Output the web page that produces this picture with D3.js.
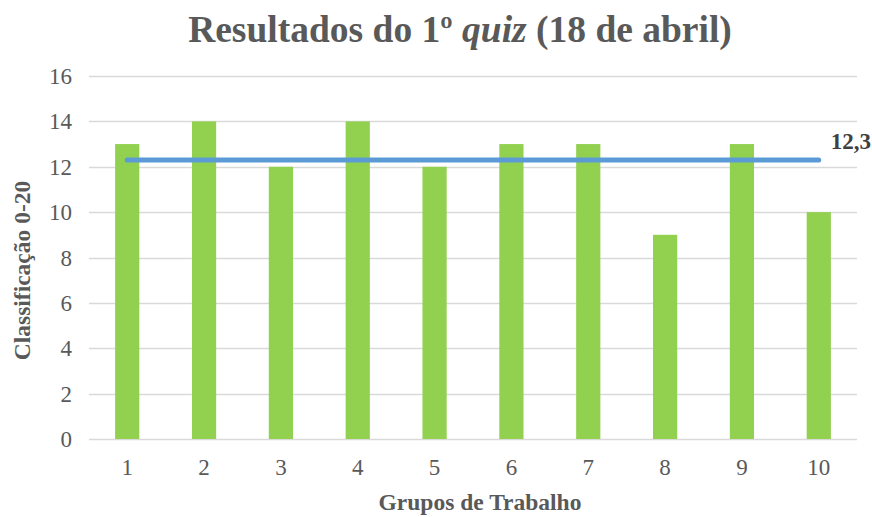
<!DOCTYPE html>
<html>
<head>
<meta charset="utf-8">
<script src="https://cdn.jsdelivr.net/npm/d3@7"></script>
<style>
  body { margin: 0; background: #fff; }
  text { font-family: "Liberation Serif", "Times New Roman", serif; }
</style>
</head>
<body>
<div id="viz"></div>
<script>
const groups = ['1', '2', '3', '4', '5', '6', '7', '8', '9', '10'];
const scores = [13, 14, 12, 14, 12, 13, 13, 9, 13, 10];
const yTicks = [0, 2, 4, 6, 8, 10, 12, 14, 16];
const average = 12.3;
const averageLabel = '12,3';

const width = 872,
    height = 517,
    margin = { top: 76, right: 15, bottom: 78, left: 89 };

const svg = d3.select('#viz').append('svg')
    .attr('width', width)
    .attr('height', height);

const x = d3.scaleBand()
    .domain(groups)
    .range([margin.left, width - margin.right])
    .paddingInner(0.685)
    .paddingOuter(0.34);

const y = d3.scaleLinear()
    .domain([0, 16])
    .range([height - margin.bottom, margin.top]);

// gridlines
svg.append('g')
    .selectAll('line')
    .data(yTicks)
    .join('line')
    .attr('x1', margin.left)
    .attr('x2', width - margin.right)
    .attr('y1', d => Math.round(y(d)) + 0.5)
    .attr('y2', d => Math.round(y(d)) + 0.5)
    .attr('stroke', '#d9d9d9')
    .attr('stroke-width', 1.3);

// y tick labels
svg.append('g')
    .selectAll('text')
    .data(yTicks)
    .join('text')
    .attr('x', 72)
    .attr('y', d => y(d))
    .attr('dy', '0.35em')
    .attr('text-anchor', 'end')
    .attr('font-size', 23)
    .attr('fill', '#595959')
    .text(d => d);

// bars
svg.append('g')
    .selectAll('rect')
    .data(scores)
    .join('rect')
    .attr('x', (d, i) => x(groups[i]))
    .attr('y', d => y(d))
    .attr('width', x.bandwidth())
    .attr('height', d => y(0) - y(d))
    .attr('fill', '#92d050');

// x tick labels
svg.append('g')
    .selectAll('text')
    .data(groups)
    .join('text')
    .attr('x', d => x(d) + x.bandwidth() / 2)
    .attr('y', 475)
    .attr('text-anchor', 'middle')
    .attr('font-size', 23)
    .attr('fill', '#595959')
    .text(d => d);

// average line
const firstC = x(groups[0]) + x.bandwidth() / 2,
    lastC = x(groups[groups.length - 1]) + x.bandwidth() / 2;

svg.append('line')
    .attr('x1', firstC)
    .attr('x2', lastC)
    .attr('y1', y(average))
    .attr('y2', y(average))
    .attr('stroke', '#5b9bd5')
    .attr('stroke-width', 5)
    .attr('stroke-linecap', 'round');

svg.append('text')
    .attr('x', lastC + 12)
    .attr('y', y(average) - 11)
    .attr('font-size', 23)
    .attr('font-weight', 'bold')
    .attr('fill', '#404040')
    .text(averageLabel);

// title
const title = svg.append('text')
    .attr('x', 460)
    .attr('y', 42)
    .attr('text-anchor', 'middle')
    .attr('font-size', 37.5)
    .attr('font-weight', 'bold')
    .attr('fill', '#595959');
title.append('tspan').text('Resultados do 1º ');
title.append('tspan').attr('font-style', 'italic').text('quiz');
title.append('tspan').text(' (18 de abril)');

// axis titles
svg.append('text')
    .attr('x', x.range()[0] + (x.range()[1] - x.range()[0]) / 2 + 7)
    .attr('y', 510)
    .attr('text-anchor', 'middle')
    .attr('font-size', 23.5)
    .attr('font-weight', 'bold')
    .attr('fill', '#595959')
    .text('Grupos de Trabalho');

svg.append('text')
    .attr('transform', `translate(30, ${y(8) + 13}) rotate(-90)`)
    .attr('text-anchor', 'middle')
    .attr('font-size', 23.5)
    .attr('font-weight', 'bold')
    .attr('fill', '#595959')
    .text('Classificação 0-20');
</script>
</body>
</html>
